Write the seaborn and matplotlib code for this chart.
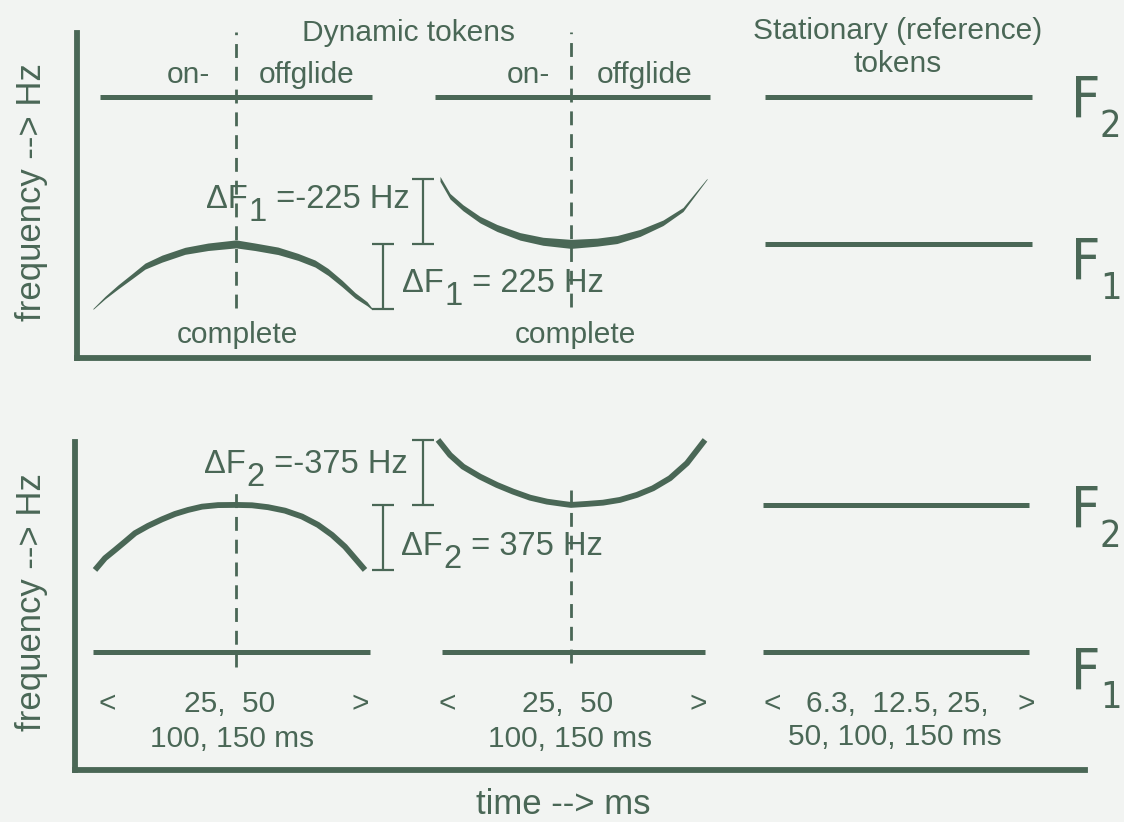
import matplotlib
matplotlib.use("Agg")
import matplotlib.pyplot as plt
import seaborn as sns
import pandas as pd
import numpy as np

W, H = 1124, 822
INK = "#4a6756"
PAPER = "#f2f4f2"

# ---- top panel: F1 glides, F2 flat (x in time units, y in Hz) ----
top_f1 = 400
top_f2 = 910
top_f2_segs = [(100, 372), (435, 710), (765, 1032)]
top_ref_f1_segs = [(765, 1032)]

rise_x = [93, 105, 118, 132, 145, 162, 185, 208, 236, 255, 278, 298, 315, 328, 342, 355, 367, 372]
rise_hz = [175, 214, 251, 288, 323, 349, 376, 390, 400, 390, 376, 355, 332, 303, 263, 222, 193, 175]
rise_px = [1, 2.5, 4, 5, 6, 7, 7, 7.5, 8, 7.5, 7.5, 7, 7, 7, 6.5, 5.5, 4, 1.5]   # stroke thickness

dip_x = [440, 450, 463, 480, 497, 520, 543, 571, 597, 617, 640, 663, 683, 707]
dip_hz = [625, 565, 525, 484, 455, 426, 409, 400, 406, 415, 438, 473, 519, 625]
dip_px = [5, 5.5, 6, 6.5, 7, 7.5, 8, 9, 8, 8, 7, 5.5, 4, 1]

# ---- bottom panel: F2 glides, F1 flat ----
bot_f1 = 700
bot_f2 = 1550
bot_f1_segs = [(93, 370), (442, 705), (763, 1029)]
bot_ref_f2_segs = [(763, 1029)]

arch_x = [95, 105, 115, 125, 135, 148, 162, 175, 188, 202, 218, 236,
          252, 268, 285, 302, 318, 332, 345, 355, 365]
arch_hz = [1175, 1243, 1290, 1338, 1387, 1429, 1467, 1498, 1521, 1540, 1549, 1550,
           1548, 1537, 1517, 1483, 1435, 1377, 1309, 1242, 1175]
bowl_x = [438, 450, 463, 480, 497, 513, 530, 547, 563, 571, 587, 603,
          620, 637, 653, 670, 687, 705]
bowl_hz = [1925, 1838, 1771, 1713, 1665, 1627, 1592, 1569, 1556, 1550, 1556, 1563,
           1579, 1608, 1646, 1704, 1791, 1925]

# dashed "complete" markers (x, top Hz, bottom Hz)
top_marks = [(236, 1134, 178), (571, 1134, 182)]
bot_marks = [(236, 1637, 615), (571, 1637, 638)]

# delta brackets (x, low Hz, high Hz)
top_brackets = [(423, 400, 625), (383, 175, 400)]
bot_brackets = [(423, 1550, 1925), (383, 1175, 1550)]

sns.set_theme(style="white")
plt.rcParams['font.family'] = ['Liberation Sans', 'DejaVu Sans']

fig = plt.figure(figsize=(W / 100, H / 100), dpi=100, facecolor=PAPER)


def box(l, t, r, b):
    return [l / W, 1 - b / H, (r - l) / W, (b - t) / H]


ax_top = fig.add_axes(box(77, 33, 1088, 358))
ax_bot = fig.add_axes(box(75, 442, 1085, 770))
ax_top.set_xlim(77, 1088)
ax_top.set_ylim(5, 1130)
ax_bot.set_xlim(75, 1085)
ax_bot.set_ylim(21, 1913)

for ax in (ax_top, ax_bot):
    ax.set_facecolor("none")
    for side in ("top", "right"):
        ax.spines[side].set_visible(False)
    for side in ("left", "bottom"):
        ax.spines[side].set_color(INK)
        ax.spines[side].set_linewidth(4.2)
    ax.set_xticks([])
    ax.set_yticks([])


def seg_frame(segs, level):
    rows = []
    for i, (a, b) in enumerate(segs):
        rows += [(i, a, level), (i, b, level)]
    return pd.DataFrame(rows, columns=["seg", "t", "hz"])


def flat(ax, segs, level):
    sns.lineplot(data=seg_frame(segs, level), x="t", y="hz", units="seg",
                 estimator=None, color=INK, lw=3.6, ax=ax, legend=False,
                 solid_capstyle="butt")


def hz_per_px(ax):
    lo, hi = ax.get_ylim()
    return (hi - lo) / (ax.get_position().height * H)


def taper(ax, xs, ys, px):
    k = hz_per_px(ax)
    ys = np.array(ys, float)
    hw = np.array(px, float) / 2 * k
    ax.fill_between(xs, ys - hw, ys + hw, color=INK, lw=0)


def marks(ax, spec):
    for x, hi, lo in spec:
        ax.vlines(x, lo, hi, colors=INK, lw=2, linestyles=(0, (5, 3.2)))


def brackets(ax, spec):
    for x, lo, hi in spec:
        ax.vlines(x, lo, hi, colors=INK, lw=1.6)
        ax.hlines([lo, hi], x - 11, x + 11, colors=INK, lw=1.6)


# top panel
flat(ax_top, top_f2_segs, top_f2)
flat(ax_top, top_ref_f1_segs, top_f1)
taper(ax_top, rise_x, rise_hz, rise_px)
taper(ax_top, dip_x, dip_hz, dip_px)
marks(ax_top, top_marks)
brackets(ax_top, top_brackets)

# bottom panel
flat(ax_bot, bot_f1_segs, bot_f1)
flat(ax_bot, bot_ref_f2_segs, bot_f2)
sns.lineplot(x=arch_x, y=arch_hz, color=INK, lw=4.2, ax=ax_bot,
             solid_capstyle="butt")
sns.lineplot(x=bowl_x, y=bowl_hz, color=INK, lw=4.2, ax=ax_bot,
             solid_capstyle="butt")
marks(ax_bot, bot_marks)
brackets(ax_bot, bot_brackets)

for ax in (ax_top, ax_bot):
    ax.set_xlabel("")
    ax.set_ylabel("")
    for ln in ax.get_lines():
        ln.set_clip_on(False)
    for c in ax.collections:
        c.set_clip_on(False)


def put(x, y, s, size=21.5, **kw):
    kw.setdefault("ha", "center")
    kw.setdefault("va", "baseline")
    return fig.text(x / W, 1 - y / H, s, fontsize=size, color=INK, **kw)


def delta_label(x, y, sub, rest, size=23.5):
    t1 = put(x, y, "\u0394F", size, ha="left")
    t2 = ax_top.annotate(sub, xy=(1, 0), xycoords=t1, xytext=(0.5, 1.5),
                         textcoords="offset points", ha="left", va="center",
                         fontsize=size, color=INK, annotation_clip=False)
    ax_top.annotate(rest, xy=(1, 0), xycoords=(t2, t1), ha="left",
                    va="bottom", fontsize=size, color=INK,
                    annotation_clip=False)


# headers and region labels
put(408, 41, "Dynamic tokens")
put(898, 39, "Stationary (reference)")
put(898, 72, "tokens")
for cx, s in [(188, "on-"), (307, "offglide"), (528, "on-"), (645, "offglide")]:
    put(cx, 83, s)
put(237, 343, "complete")
put(575, 343, "complete")

delta_label(206, 208, "1", " =-225 Hz")
delta_label(402, 292, "1", " = 225 Hz")
delta_label(204, 473, "2", " =-375 Hz")
delta_label(401, 555, "2", " = 375 Hz")

# durations
for lt, mid, gt in [(107, 230, 360), (447, 568, 698)]:
    put(lt, 712, "<")
    put(mid, 712, "25,  50")
    put(gt, 712, ">")
    put(mid + 2, 747, "100, 150 ms")
put(772, 712, "<")
put(897, 712, "6.3,  12.5, 25,")
put(1026, 712, ">")
put(895, 745, "50, 100, 150 ms")

# formant labels (narrow letterforms)
for y_f, y_s, s in [(118, 137, "2"), (280, 299, "1"), (528, 547, "2"), (690, 708, "1")]:
    put(1071, y_f, "F", 41, ha="left", family="DejaVu Sans", fontstretch="condensed")
    put(1100, y_s, s, 27, ha="left", family="DejaVu Sans", fontstretch="condensed")

# axis titles
put(32, 192, "frequency --> Hz", 25, rotation=90, va="center")
put(32, 602, "frequency --> Hz", 25, rotation=90, va="center")
put(563, 814, "time --> ms", 25)

fig.savefig("out.png", dpi=100, facecolor=PAPER)
